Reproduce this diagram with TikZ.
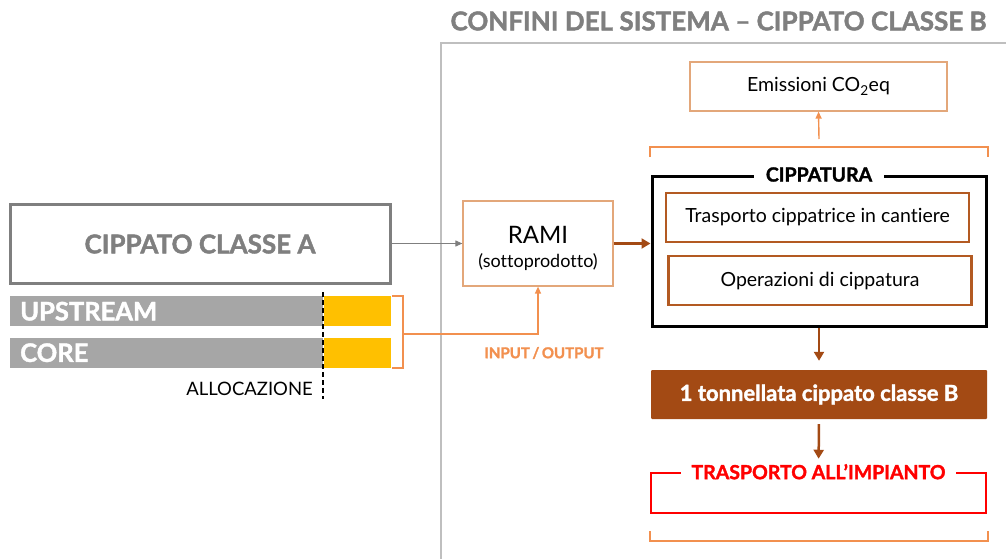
\documentclass[tikz,border=0pt]{standalone}
\usepackage{fontspec}
\setmainfont{Lato}[Ligatures={NoCommon},BoldFeatures={FakeBold=1.6}]
\usetikzlibrary{arrows.meta}
\definecolor{orng}{HTML}{F2904F}
\definecolor{brwn}{HTML}{A34A14}
\definecolor{ibrwn}{HTML}{B35A22}
\definecolor{gry}{HTML}{7F7F7F}
\definecolor{lgry}{HTML}{A6A6A6}
\definecolor{bgry}{HTML}{BFBFBF}
\definecolor{yel}{HTML}{FFC000}
\definecolor{tanc}{HTML}{E3A77A}
\definecolor{redc}{HTML}{FF0000}
\tikzset{
  fs/.style={font=\fontsize{#1}{#1}\selectfont},
  fsb/.style={font=\fontsize{#1}{#1}\selectfont\bfseries},
  barbox/.style={fill=lgry, text=white, fsb=25.5, minimum height=30pt, text width=293pt, inner xsep=10pt, inner ysep=0pt, align=left, anchor=north west},
  yelbox/.style={fill=yel, minimum width=67pt, minimum height=30pt, inner sep=0pt, anchor=west},
  inbox/.style={draw=ibrwn, line width=2.5pt, minimum width=303pt, minimum height=49pt, inner sep=0pt, fs=19.5},
  thinbox/.style={draw=tanc, line width=1.2pt, inner sep=0pt},
  oarrow/.style={orng, line width=1.4pt, -{Triangle[length=7pt,width=6pt]}},
  barrow/.style={brwn, line width=2.8pt, -{Triangle[length=9pt,width=10pt]}},
  brack/.style={orng, line width=1.2pt},
}
\begin{document}
\begin{tikzpicture}[x=1pt,y=-1pt]
\useasboundingbox (0,0) rectangle (1006,559);
% title and system boundary
\node[fsb=26, text=gry, inner sep=0pt] (title) at (718.5,21) {CONFINI DEL SISTEMA – CIPPATO CLASSE B};
\coordinate (bBot) at (441,559);
\coordinate (bCorner) at (441,43);
\coordinate (bRight) at (1006,43);
\draw[bgry, line width=2pt] (bBot) -- (bCorner) -- (bRight);

% class A block
\node[draw=gry, line width=3pt, minimum width=380pt, minimum height=79pt, inner sep=0pt, text=gry, fsb=26] (classA) at (200,244) {CIPPATO CLASSE A};
\node[barbox] (up) at (10,296) {UPSTREAM};
\node[yelbox] (upY) at (up.east) {};
\node[barbox] (core) at (10,337.5) {CORE};
\node[yelbox] (coreY) at (core.east) {};
\coordinate (dTop) at (323,292);
\coordinate (dBot) at (323,399);
\draw[black, line width=1.5pt, dash pattern=on 5pt off 3pt] (dTop) -- (dBot);
\node[fs=18.5, anchor=east, inner sep=0pt] (alloc) at (313,389) {ALLOCAZIONE};

% bracket to RAMI
\coordinate (lb1) at (392,296);
\coordinate (lb2) at (403,296);
\coordinate (lb3) at (403,368);
\coordinate (lb4) at (392,368);
\coordinate (brk) at (403,334);
\draw[brack] (lb1) -- (lb2) -- (lb3) -- (lb4);

% RAMI
\node[thinbox, minimum width=150pt, minimum height=85pt] (rami) at (538,243.5) {};
\node[fs=24, inner sep=0pt] (ramiT) at (538,235) {RAMI};
\node[fs=18, inner sep=0pt] (ramiS) at (538,262) {(sottoprodotto)};
\draw[oarrow] (brk) -| (rami.south);
\node[fsb=15, text=orng, inner sep=0pt] (io) at (544,353) {INPUT\,/\,OUTPUT};
\draw[gry, line width=1pt, -{Triangle[length=7pt,width=6pt]}] (classA.east |- rami.west) -- (rami.west);

% CIPPATURA
\node[draw=black, line width=3pt, minimum width=334pt, minimum height=150pt, inner sep=0pt] (cipp) at (819,251) {};
\node[fill=white, fsb=19.5, inner xsep=12pt, inner ysep=2pt] (cippT) at (cipp.north) {CIPPATURA};
\node[inbox] (tr) at (817.5,217.5) {Trasporto cippatrice in cantiere};
\node[inbox] (op) at (820,280.5) {Operazioni di cippatura};
\draw[barrow] (rami.east) -- (cipp.west |- rami.east);

% emissions
\node[thinbox, minimum width=257pt, minimum height=49pt, fs=19.5] (emis) at (818.5,86.5) {Emissioni CO\textsubscript{2}eq};
\coordinate (ub1) at (650,157);
\coordinate (ub2) at (650,147);
\coordinate (ub3) at (988,147);
\coordinate (ub4) at (988,157);
\draw[brack] (ub1) -- (ub2) -- (ub3) -- (ub4);
\coordinate (ubA) at (819,139);
\draw[oarrow] (ubA) -- (emis.south);

% output
\node[fill=brwn, rounded corners=1pt, minimum width=336pt, minimum height=49pt, text=white, fsb=22, inner sep=0pt] (ton) at (819,394.5) {1 tonnellata cippato classe B};
\draw[barrow, line width=2.5pt, shorten >=9pt] (cipp.south) -- (ton.north);

% transport
\node[draw=redc, line width=2.5pt, minimum width=335pt, minimum height=40pt, inner sep=0pt] (trasp) at (818.5,493) {};
\node[fill=white, text=redc, fsb=19.5, inner xsep=11pt, inner ysep=3pt] (traspT) at (trasp.north) {TRASPORTO ALL’IMPIANTO};
\draw[barrow, line width=2.5pt, shorten <=5pt, shorten >=13pt] (ton.south) -- (trasp.north);

% lower bracket
\coordinate (lw1) at (650,531);
\coordinate (lw2) at (650,541);
\coordinate (lw3) at (988,541);
\coordinate (lw4) at (988,531);
\draw[brack] (lw1) -- (lw2) -- (lw3) -- (lw4);
\end{tikzpicture}
\end{document}
